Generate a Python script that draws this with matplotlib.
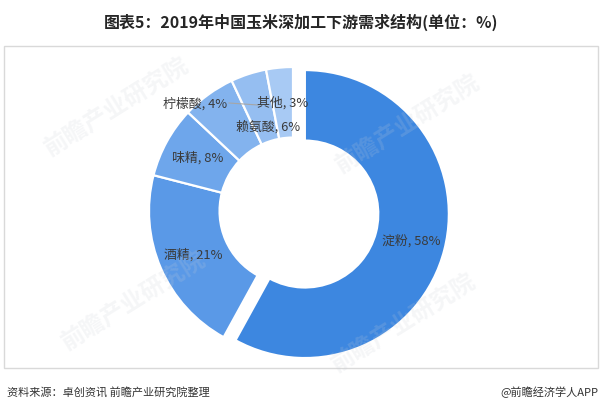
import matplotlib
matplotlib.use("Agg")
import matplotlib.pyplot as plt
from matplotlib.patches import Rectangle

plt.rcParams['font.family'] = ['Noto Sans CJK SC', 'DejaVu Sans']

# ---- data ----
categories = ['淀粉', '酒精', '味精', '赖氨酸', '柠檬酸', '其他']
values = [58, 21, 8, 6, 4, 3]
colors = ['#3D87E0', '#5A99E7', '#6EA6EB', '#83B3EE', '#95BEF1', '#A8CAF4']
title = '图表5：2019年中国玉米深加工下游需求结构(单位：%)'
source = '资料来源：卓创资讯 前瞻产业研究院整理'
brand = '@前瞻经济学人APP'

W, H = 601, 412
fig = plt.figure(figsize=(W / 100, H / 100), dpi=100)
fig.patch.set_facecolor('white')

# frame box
fig.patches.append(Rectangle((4 / W, 1 - 368 / H), 594 / W, 322 / H,
                             transform=fig.transFigure, fill=False,
                             edgecolor='#D9D9D9', linewidth=1.0))

# pie axes
cx, cy, R = 293, 211, 144
half = 165
ax = fig.add_axes([(cx - half) / W, (H - cy - half) / H, 2 * half / W, 2 * half / H])
explode = [0.085, 0, 0, 0, 0, 0]
wedges, _ = ax.pie(values, colors=colors, startangle=90, counterclock=False,
                   explode=explode, radius=1.0,
                   wedgeprops=dict(width=0.49, edgecolor='white', linewidth=1.6))
L = half / R
ax.set_xlim(-L, L)
ax.set_ylim(-L, L)
ax.set_aspect('equal')
ax.axis('off')

# label positions (pixel) for each category
label_px = [(411, 241), (193, 255), (198, 158), (268, 127), (195, 104), (283, 103)]
for cat, val, (px, py) in zip(categories, values, label_px):
    ax.text((px - cx) / R, (cy - py) / R, f'{cat}, {val}%', ha='center', va='center',
            fontsize=9.3, color='#3A3A3A', zorder=5)
# leader line for 柠檬酸
ax.plot([(229 - cx) / R, (258 - cx) / R], [(cy - 103) / R, (cy - 105) / R],
        color='#A6A6A6', linewidth=0.8, zorder=4)

# watermarks
for (px, py) in [(117, 107), (408, 124), (134, 301), (404, 323)]:
    fig.text(px / W, 1 - py / H, '前瞻产业研究院', rotation=32, ha='center', va='center',
             fontsize=17, fontweight='bold', color='#C9CED6', alpha=0.18, zorder=10)

# title and footer
fig.text(301 / W, 1 - 22 / H, title, ha='center', va='center', fontsize=11.5,
         fontweight='bold', color='#262626')
fig.text(7 / W, 1 - 392 / H, source, ha='left', va='center', fontsize=8, color='#333333')
fig.text(598 / W, 1 - 392 / H, brand, ha='right', va='center', fontsize=8, color='#333333')

fig.savefig('out.png', dpi=100)
